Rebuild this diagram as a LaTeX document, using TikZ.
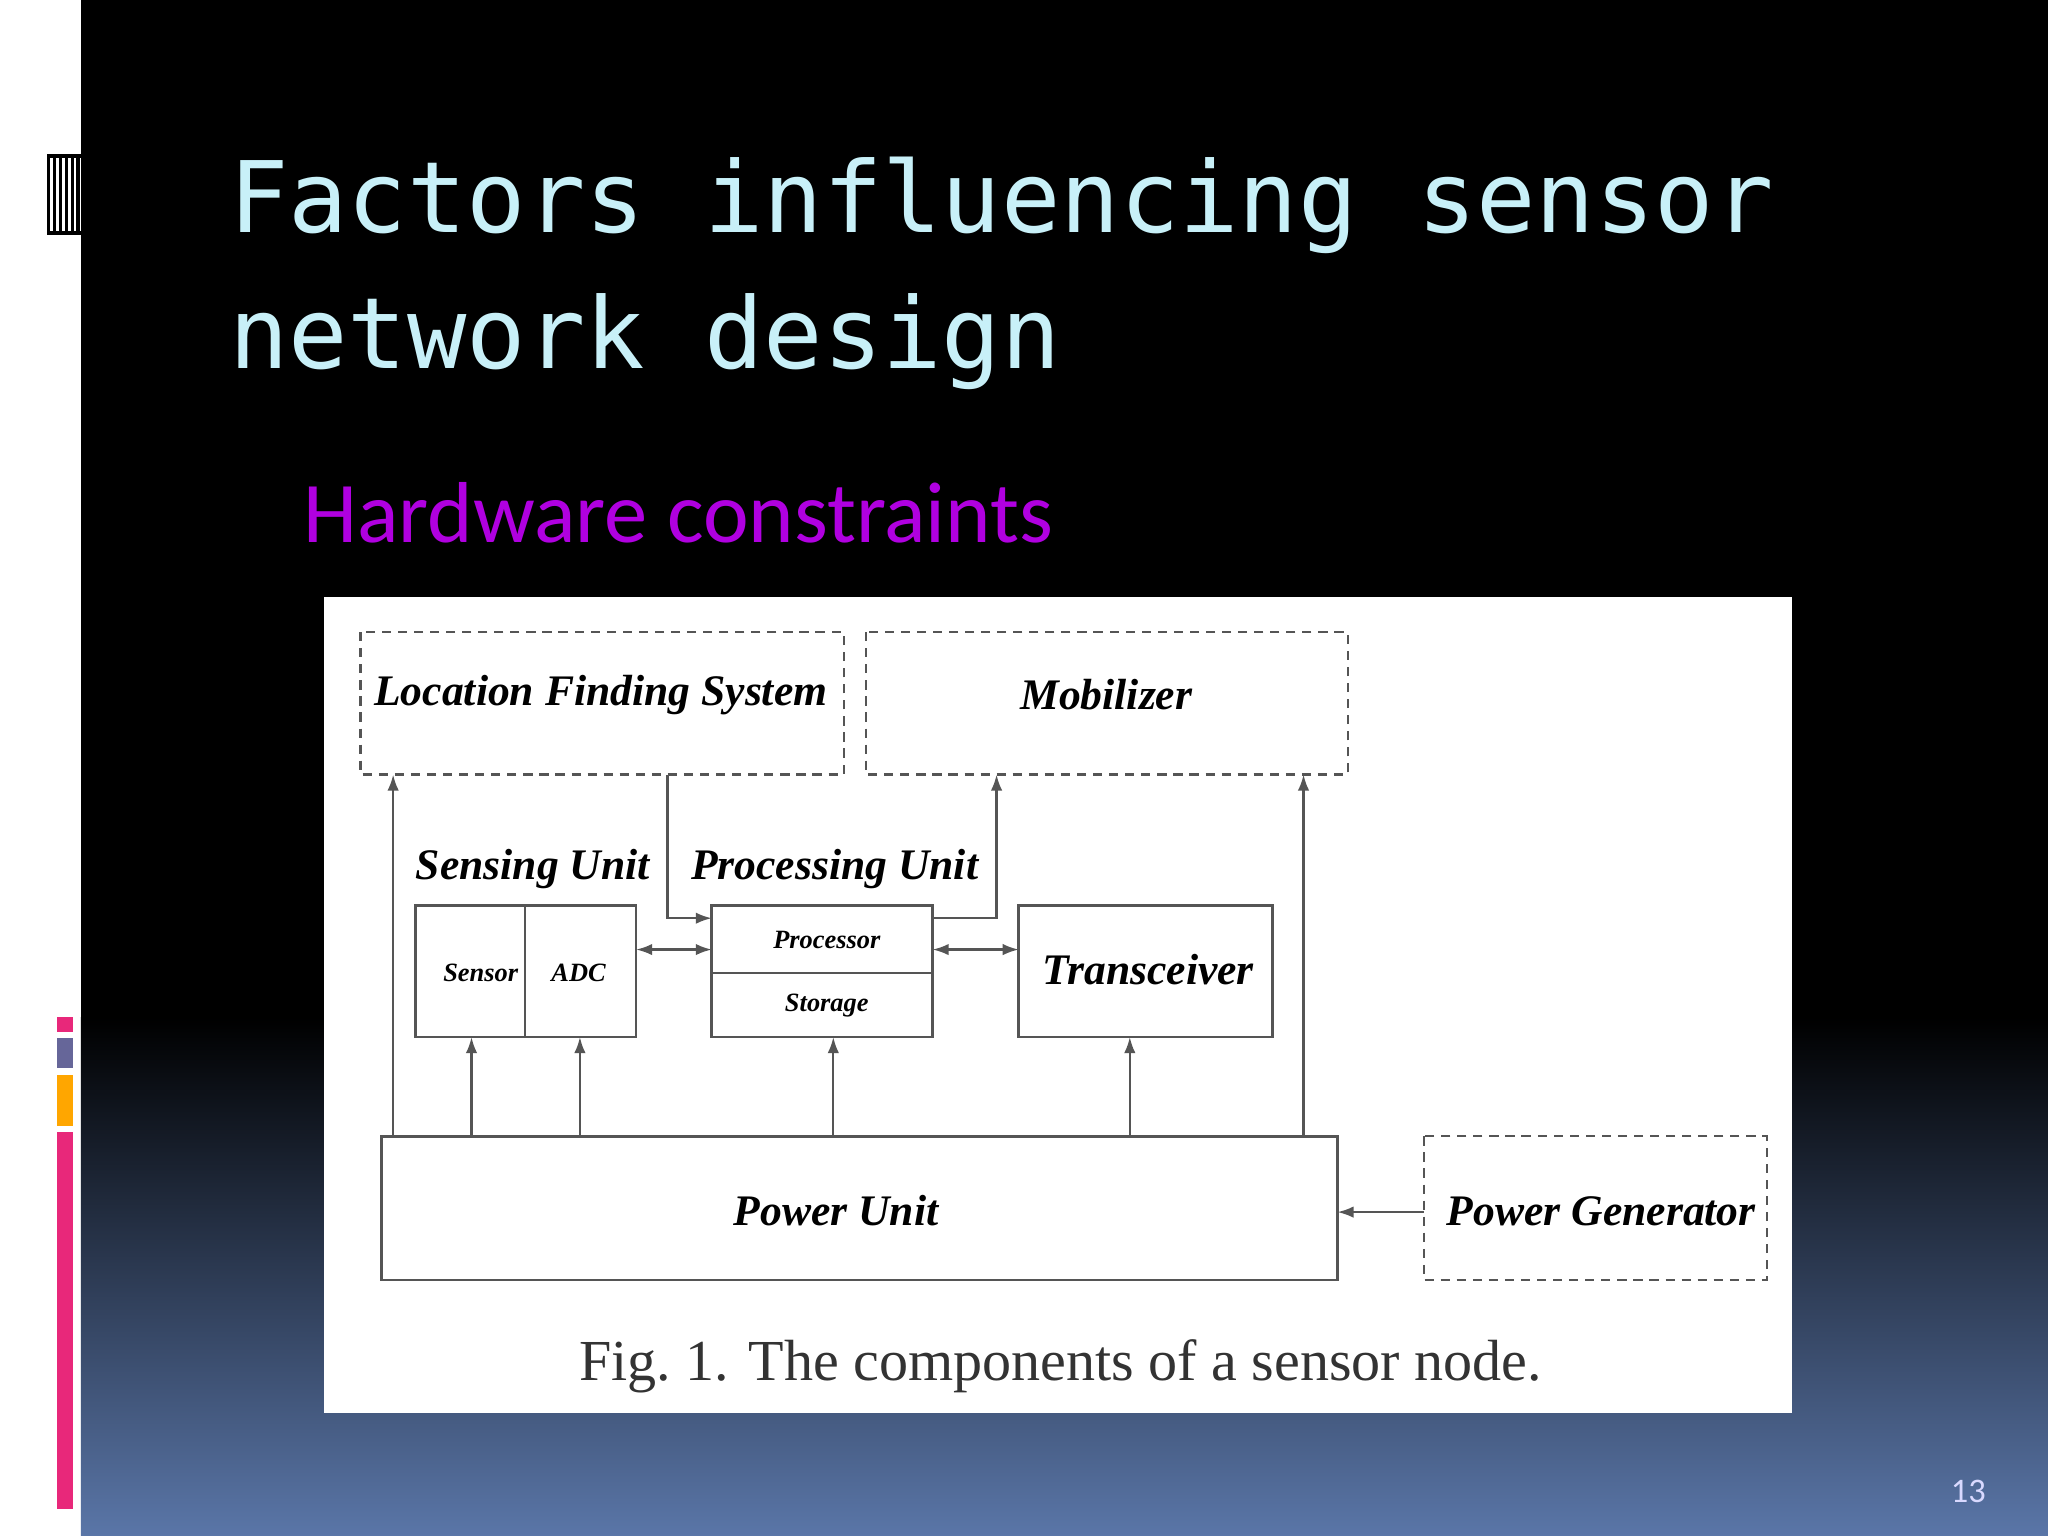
\documentclass[tikz,border=0pt]{standalone}
\usepackage{fontspec}
\setmainfont{Liberation Serif}
\newfontfamily\monof{DejaVu Sans Mono}
\newfontfamily\calf{Carlito}
\usetikzlibrary{arrows.meta}
\definecolor{titlec}{HTML}{C8F0F8}
\definecolor{subc}{HTML}{B000E0}
\definecolor{bluebot}{HTML}{5A76A8}
\definecolor{lc}{HTML}{555555}
\definecolor{pinkc}{HTML}{E8287A}
\begin{document}
\begin{tikzpicture}[x=0.02cm,y=-0.02cm,
  box/.style={draw=lc,line width=1.2pt},
  dbox/.style={draw=lc,line width=1pt,dash pattern=on 4pt off 3pt},
  lab/.style={font=\fontsize{19}{22}\selectfont\bfseries\itshape,text=black},
  sm/.style={font=\fontsize{11.5}{13}\selectfont\bfseries\itshape,text=black},
  ar/.style={draw=lc,line width=1pt,-{Latex[length=7pt,width=5pt]}},
  dar/.style={draw=lc,line width=1pt,{Latex[length=7pt,width=5pt]}-{Latex[length=7pt,width=5pt]}}]
\useasboundingbox (0,0) rectangle (1568,1176);
\fill[white] (0,0) rectangle (62,1176);
\fill[black] (62,0) rectangle (1568,780);
\shade[top color=black,bottom color=bluebot] (62,779) rectangle (1568,1176);
% left decorations
\foreach \i in {0,...,5}{\fill[black] (36+\i*4.5,118) rectangle (38.5+\i*4.5,180);}
\fill[black] (36,118) rectangle (62,121);
\fill[black] (36,177) rectangle (62,180);
\fill[pinkc] (44,779) rectangle (56,790);
\fill[gray!80!blue] (44,795) rectangle (56,818);
\fill[orange!70!yellow] (44,823) rectangle (56,862);
\fill[pinkc] (44,867) rectangle (56,1155);
% title
\node[anchor=base west,text=titlec,font=\monof\fontsize{43}{50}\selectfont,inner sep=0] (t1) at (175,178) {Factors influencing sensor};
\node[anchor=base west,text=titlec,font=\monof\fontsize{43}{50}\selectfont,inner sep=0] (t2) at (175,282) {network design};
\node[anchor=base west,text=subc,font=\calf\fontsize{37.7}{44}\selectfont,inner sep=0] (st) at (232,415) {Hardware constraints};
\node[anchor=base,text=white!85!blue,font=\calf\fontsize{15}{18}\selectfont] (pg) at (1507,1150) {13};
% figure
\fill[white] (248,457) rectangle (1372,1082);
\draw[dbox] (276,484) rectangle (646,593);
\node[lab] (lfs) at (460,532) {Location Finding System};
\draw[dbox] (663,484) rectangle (1032,593);
\node[lab] (mob) at (847,532) {Mobilizer};
\draw[box] (318,693) rectangle (487,794);
\draw[box] (402,693) -- (402,794);
\node[sm] (sen) at (368,745) {Sensor};
\node[sm] (adc) at (443,745) {ADC};
\draw[box] (545,693) rectangle (714,794);
\draw[lc,line width=0.8pt] (545,745) -- (714,745);
\node[sm] (proc) at (633,720) {Processor};
\node[sm] (stor) at (633,770) {Storage};
\draw[box] (780,693) rectangle (974,794);
\node[lab] (tr) at (879,742) {Transceiver};
\draw[box] (292,870) rectangle (1024,980);
\node[lab] (pu) at (640,927) {Power Unit};
\draw[dbox] (1090,870) rectangle (1353,980);
\node[lab] (pgen) at (1226,927) {Power Generator};
\node[lab] (su) at (408,665) {Sensing Unit};
\node[lab] (pru) at (639,665) {Processing Unit};
\node[font=\fontsize{25.3}{28}\selectfont,text=black!80] (cap) at (812,1046) {Fig.\ 1. The components of a sensor node.};
% arrows
\draw[ar] (301,870) -- (301,593);
\draw[ar] (998,870) -- (998,593);
\draw[ar] (361,870) -- (361,794);
\draw[ar] (444,870) -- (444,794);
\draw[ar] (638,870) -- (638,794);
\draw[ar] (865,870) -- (865,794);
\draw[ar] (1090,928) -- (1024,928);
\draw[dar] (487,727) -- (545,727);
\draw[dar] (714,727) -- (780,727);
\draw[ar] (511,593) -- (511,703) -- (545,703);
\draw[ar] (714,703) -- (763,703) -- (763,593);
\end{tikzpicture}
\end{document}
